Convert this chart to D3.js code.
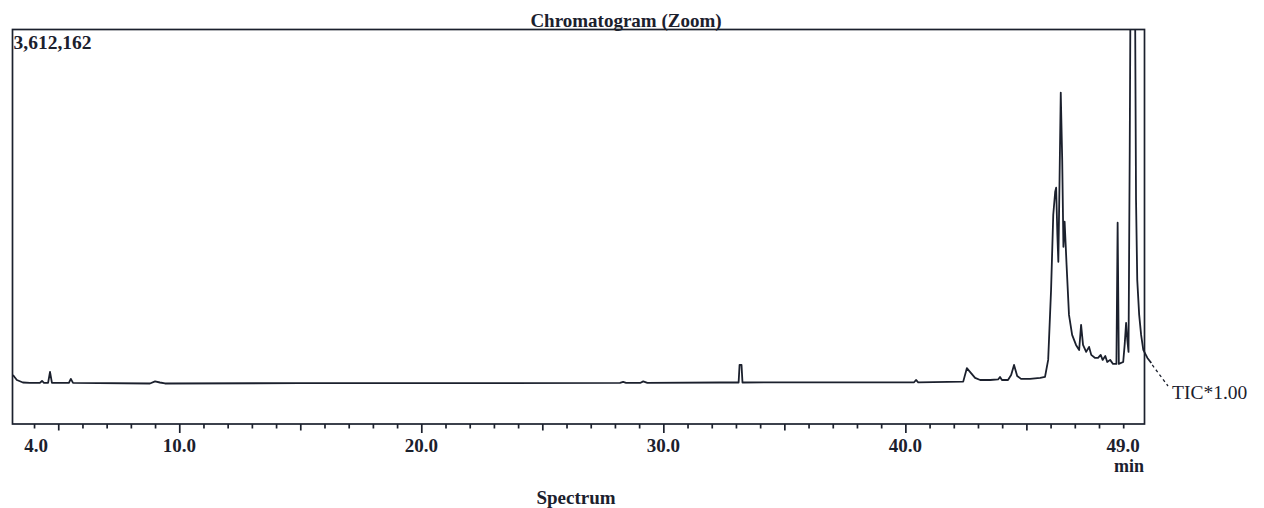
<!DOCTYPE html>
<html>
<head>
<meta charset="utf-8">
<script src="https://cdn.jsdelivr.net/npm/d3@7"></script>
<style>
  html, body { margin: 0; padding: 0; background: #ffffff; }
  svg { display: block; }
  .serif { font-family: "Liberation Serif", "Times New Roman", serif; }
</style>
</head>
<body>
<svg id="chart" width="1264" height="508"></svg>
<script>
// ---- Data (retention time in min, TIC intensity in counts) ----
const times = [
  3.13, 3.29, 3.54, 3.83, 4.24, 4.33, 4.41, 4.58, 4.66, 4.74,
  5.44, 5.52, 5.61, 8.79, 9.00, 9.20, 9.41, 14.99, 19.90,
  28.21, 28.34, 28.46, 29.04, 29.17, 29.34, 32.34,
  33.11, 33.15, 33.23, 33.27, 39.78, 40.36, 40.44, 40.53,
  42.39, 42.54, 42.67, 42.88, 43.09, 43.50, 43.83, 43.91, 43.99,
  44.24, 44.37, 44.49, 44.62, 44.78, 45.15, 45.57, 45.77,
  45.90, 46.02, 46.11, 46.19, 46.23, 46.28, 46.32, 46.37, 46.42,
  46.48, 46.53, 46.58, 46.66, 46.76, 46.89, 47.05, 47.18, 47.26,
  47.34, 47.47, 47.59, 47.68, 47.84, 47.96, 48.07, 48.15, 48.26,
  48.34, 48.46, 48.58, 48.72, 48.77, 48.82, 49.00, 49.06, 49.12,
  49.17, 49.22, 49.27, 49.31, 49.39, 49.48, 49.53, 49.58, 49.66,
  49.74, 49.83, 50.00, 50.16
];
const intensity = [
  449000, 403000, 380000, 376000, 376000, 394000, 376000, 376000, 477000, 376000,
  376000, 413000, 376000, 371000, 390000, 380000, 371000, 374000, 374000,
  376000, 385000, 376000, 376000, 390000, 376000, 380000,
  380000, 541000, 541000, 380000, 382000, 382000, 403000, 382000,
  388000, 511000, 477000, 422000, 403000, 403000, 408000, 431000, 403000,
  403000, 449000, 541000, 440000, 413000, 413000, 422000, 431000,
  587000, 1229000, 1916000, 2127000, 2164000, 1733000, 1485000, 2237000, 3035000,
  2420000, 1623000, 1852000, 1458000, 999000, 816000, 724000, 678000, 908000,
  724000, 660000, 706000, 633000, 605000, 605000, 633000, 587000, 623000,
  568000, 587000, 550000, 550000, 1843000, 550000, 568000, 724000, 926000,
  770000, 660000, 2512000, 4346000, 5262000, 4346000, 2054000, 1320000, 999000,
  816000, 678000, 605000, 559000
];
const timeDomain = [3.11, 49.88];
const maxIntensity = 3612162;
const tickTimes = d3.range(4, 50);
const labelTimes = [4, 10, 20, 30, 40, 49];
const titleText = "Chromatogram (Zoom)";
const maxLabel = "3,612,162";
const traceLabel = "TIC*1.00";
const unitLabel = "min";
const footerText = "Spectrum";

// ---- Layout ----
const frame = { left: 12.5, right: 1144.5, top: 29.5, bottom: 424 };
const ink = "#1b202d";

const svg = d3.select("#chart");
const x = d3.scaleLinear().domain(timeDomain).range([frame.left, frame.right]);
const y = d3.scaleLinear().domain([0, maxIntensity]).range([frame.bottom, frame.top]);

svg.append("defs").append("clipPath").attr("id", "plotclip")
  .append("rect")
  .attr("x", frame.left).attr("y", frame.top)
  .attr("width", 1160 - frame.left).attr("height", frame.bottom - frame.top);

// Frame
svg.append("rect")
  .attr("x", frame.left).attr("y", frame.top)
  .attr("width", frame.right - frame.left).attr("height", frame.bottom - frame.top)
  .attr("fill", "none").attr("stroke", ink).attr("stroke-width", 1.7);

// Axis ticks
const axis = d3.axisBottom(x).tickValues(tickTimes).tickFormat("").tickSizeOuter(0).tickSize(5);
const gAxis = svg.append("g").attr("transform", `translate(0,${frame.bottom})`).call(axis);
gAxis.select(".domain").remove();
gAxis.selectAll(".tick line")
  .attr("stroke", ink).attr("stroke-width", 1.7)
  .attr("y2", d => d % 10 === 0 ? 9 : (d % 5 === 0 ? 6.5 : 4.5));

// Tick labels
svg.append("g").selectAll("text").data(labelTimes).join("text")
  .attr("class", "serif")
  .attr("x", d => x(d) + (d === 4 ? 2 : 0)).attr("y", 451.5)
  .attr("text-anchor", "middle")
  .attr("font-size", 19).attr("font-weight", "bold").attr("fill", ink)
  .text(d => d.toFixed(1));

// Trace
const pts = times.map((t, i) => [t, intensity[i]]);
const line = d3.line().x(d => x(d[0])).y(d => y(d[1]));
svg.append("path")
  .datum(pts)
  .attr("clip-path", "url(#plotclip)")
  .attr("d", line)
  .attr("fill", "none").attr("stroke", ink).attr("stroke-width", 1.8)
  .attr("stroke-linejoin", "round");

// Leader line to TIC label
const last = pts[pts.length - 1];
svg.append("line")
  .attr("x1", x(last[0]) + 1).attr("y1", y(last[1]) + 2)
  .attr("x2", 1168).attr("y2", 386)
  .attr("stroke", ink).attr("stroke-width", 1.3).attr("stroke-dasharray", "3,3");

// Texts
svg.append("text").attr("class", "serif")
  .attr("x", 626).attr("y", 26.5).attr("text-anchor", "middle")
  .attr("font-size", 19).attr("font-weight", "bold").attr("fill", ink)
  .text(titleText);

svg.append("text").attr("class", "serif")
  .attr("x", 13.5).attr("y", 49).attr("font-size", 19.5).attr("font-weight", "bold").attr("fill", ink)
  .text(maxLabel);

svg.append("text").attr("class", "serif")
  .attr("x", 1172).attr("y", 398.5).attr("font-size", 19.5).attr("fill", ink)
  .text(traceLabel);

svg.append("text").attr("class", "serif")
  .attr("x", 1114).attr("y", 472).attr("font-size", 18).attr("font-weight", "bold").attr("fill", ink)
  .text(unitLabel);

svg.append("text").attr("class", "serif")
  .attr("x", 576).attr("y", 503.5).attr("text-anchor", "middle")
  .attr("font-size", 19).attr("font-weight", "bold").attr("fill", ink)
  .text(footerText);
</script>
</body>
</html>
